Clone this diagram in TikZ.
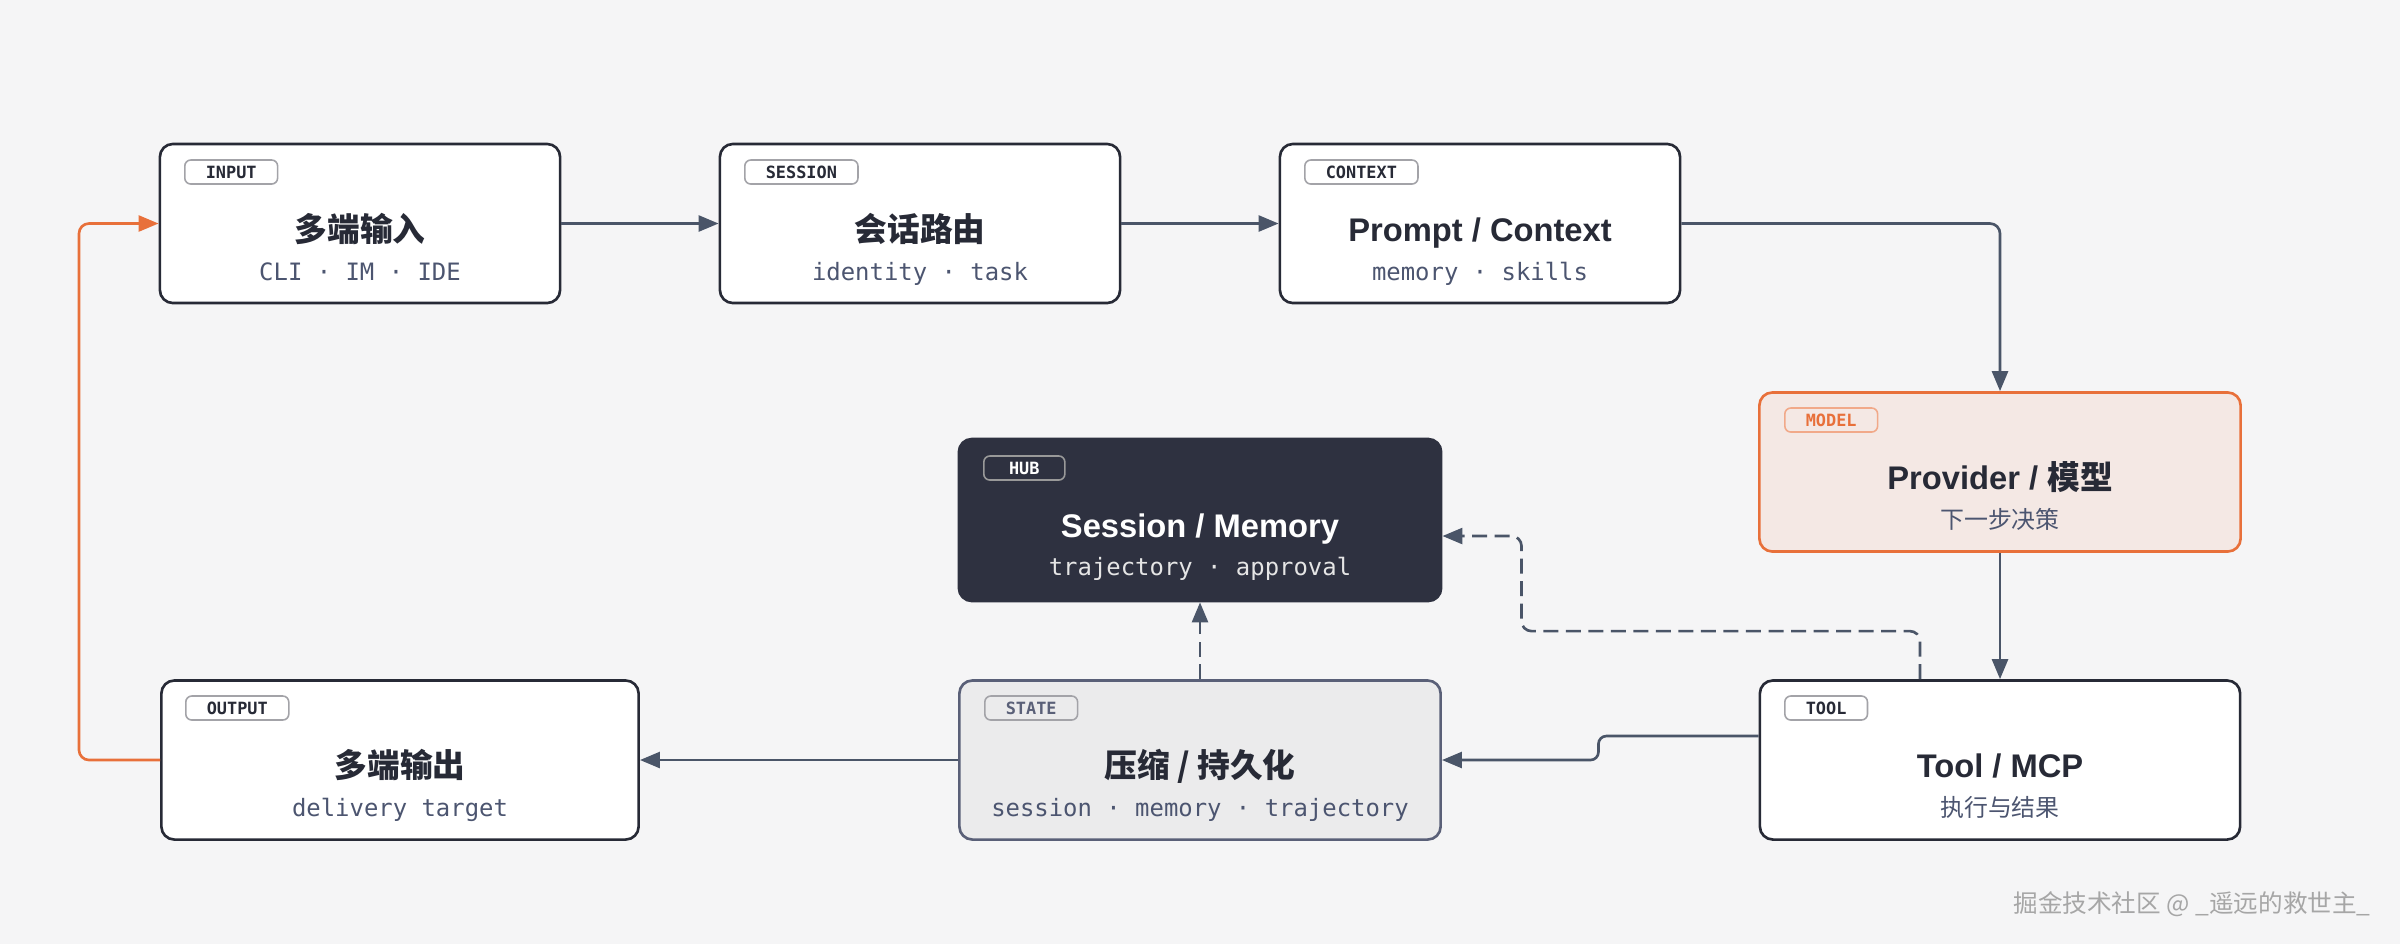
\documentclass[tikz,border=0pt]{standalone}
\usepackage{fontspec}
\setmainfont{Liberation Sans}
\setmonofont{DejaVu Sans Mono}
\newfontfamily\cjk{Noto Sans CJK SC}
\usetikzlibrary{arrows.meta}

\definecolor{bgGray}{HTML}{F5F5F6}
\definecolor{inkDark}{HTML}{272A36}
\definecolor{inkSub}{HTML}{4C5570}
\definecolor{flowGray}{HTML}{4A5568}
\definecolor{loopOrange}{HTML}{E8703A}
\definecolor{modelFill}{HTML}{F4E8E4}
\definecolor{hubFill}{HTML}{2E3140}
\definecolor{stateFill}{HTML}{EBEBEC}
\definecolor{stateLine}{HTML}{5A6078}
\definecolor{tagLine}{HTML}{A3A3A8}

\begin{document}
\begin{tikzpicture}[x=0.01cm, y=-0.01cm,
    stage/.style={draw=inkDark, fill=white, line width=0.75pt, rounded corners=1.3mm,
      inner sep=0pt, minimum height=1.59cm},
    tag/.style={draw=tagLine, line width=0.45pt, rounded corners=0.6mm, anchor=west,
      inner xsep=2.1mm, inner ysep=0pt, minimum height=2.4mm, minimum width=8.1mm,
      text=inkDark, font=\ttfamily\bfseries\fontsize{4.8}{5}\selectfont},
    title/.style={text=inkDark, text height=2.3mm, text depth=0.6mm,
      font=\bfseries\fontsize{9.3}{11}\selectfont},
    sub/.style={text=inkSub, text height=1.7mm, text depth=0.45mm,
      font=\ttfamily\fontsize{6.8}{8}\selectfont},
    flow/.style={draw=flowGray, line width=0.75pt, rounded corners=1mm,
      -{Triangle[length=2mm,width=1.6mm]}},
    dashflow/.style={flow, dash pattern=on 1.5mm off 0.75mm},
    loop/.style={flow, draw=loopOrange, fill=none}]
  \small

  % background and page size
  \fill[bgGray] (0,0) rectangle (2400,944);
  \useasboundingbox (0,0) rectangle (2400,944);

  % top row
  \node (input) [stage, minimum width=4cm] at (360,223.5) {};
  \node (inputtag) [tag] at (184,172) {INPUT};
  \node (inputtitle) [title] at (360,233) {\cjk 多端输入};
  \node (inputsub) [sub] at (360,274) {CLI · IM · IDE};

  \node (session) [stage, minimum width=4cm] at (920,223.5) {};
  \node (sessiontag) [tag] at (744,172) {SESSION};
  \node (sessiontitle) [title] at (920,233) {\cjk 会话路由};
  \node (sessionsub) [sub] at (920,274) {identity · task};

  \node (context) [stage, minimum width=4cm] at (1480,223.5) {};
  \node (contexttag) [tag] at (1304,172) {CONTEXT};
  \node (contexttitle) [title] at (1480,233) {Prompt / Context};
  \node (contextsub) [sub] at (1480,274) {memory · skills};

  % model
  \node (model) [stage, draw=loopOrange, fill=modelFill, minimum width=4.81cm] at (2000,472) {};
  \node (modeltag) [tag, draw=loopOrange!60, text=loopOrange] at (1784,420) {MODEL};
  \node (modeltitle) [title] at (2000,481) {Provider / {\cjk 模型}};
  \node (modelsub) [sub] at (2000,522) {\cjk 下一步决策};

  % hub
  \node (hub) [stage, draw=hubFill, fill=hubFill, minimum width=4.82cm, minimum height=1.62cm] at (1200,520) {};
  \node (hubtag) [tag, draw=gray!80, text=white] at (983,468) {HUB};
  \node (hubtitle) [title, text=white] at (1200,529) {Session / Memory};
  \node (hubsub) [sub, text=white!80!gray] at (1200,569) {trajectory · approval};

  % bottom row
  \node (output) [stage, minimum width=4.77cm] at (400,760) {};
  \node (outputtag) [tag] at (185,708) {OUTPUT};
  \node (outputtitle) [title] at (400,769) {\cjk 多端输出};
  \node (outputsub) [sub] at (400,810) {delivery target};

  \node (state) [stage, draw=stateLine, fill=stateFill, minimum width=4.81cm] at (1200,760) {};
  \node (statetag) [tag, text=stateLine] at (984,708) {STATE};
  \node (statetitle) [title] at (1200,769) {\cjk 压缩 / 持久化};
  \node (statesub) [sub] at (1200,810) {session · memory · trajectory};

  \node (tool) [stage, minimum width=4.8cm] at (2000,760) {};
  \node (tooltag) [tag] at (1784,708) {TOOL};
  \node (tooltitle) [title] at (2000,769) {Tool / MCP};
  \node (toolsub) [sub] at (2000,810) {\cjk 执行与结果};

  % main flow
  \draw[flow] (input) -- (session);
  \draw[flow] (session) -- (context);
  \draw[flow] (context.east) -- (model.north |- context.east) -- (model.north);
  \draw[flow] (model) -- (tool);
  \draw[flow, rounded corners=0.8mm] ([yshift=2.4mm]tool.west) -- ++(-1.6cm,0) -- ++(0,-2.4mm) -- (state.east);
  \draw[flow] (state) -- (output);

  % writes to the hub
  \draw[dashflow] (state) -- (hub);
  \draw[dashflow] ([xshift=-8mm]tool.north) -- ++(0,4.8mm) -| ([xshift=7.9mm,yshift=-1.6mm]hub.east) -- ([yshift=-1.6mm]hub.east);

  % back to the input
  \draw[loop] (output.west) -- ++(-8.1mm,0) |- (input.west);

  % watermark
  \node (mark) [text=gray!70, font=\cjk\fontsize{7}{8}\selectfont] at (2192,904) {掘金技术社区 @ \_遥远的救世主\_};
\end{tikzpicture}
\end{document}
